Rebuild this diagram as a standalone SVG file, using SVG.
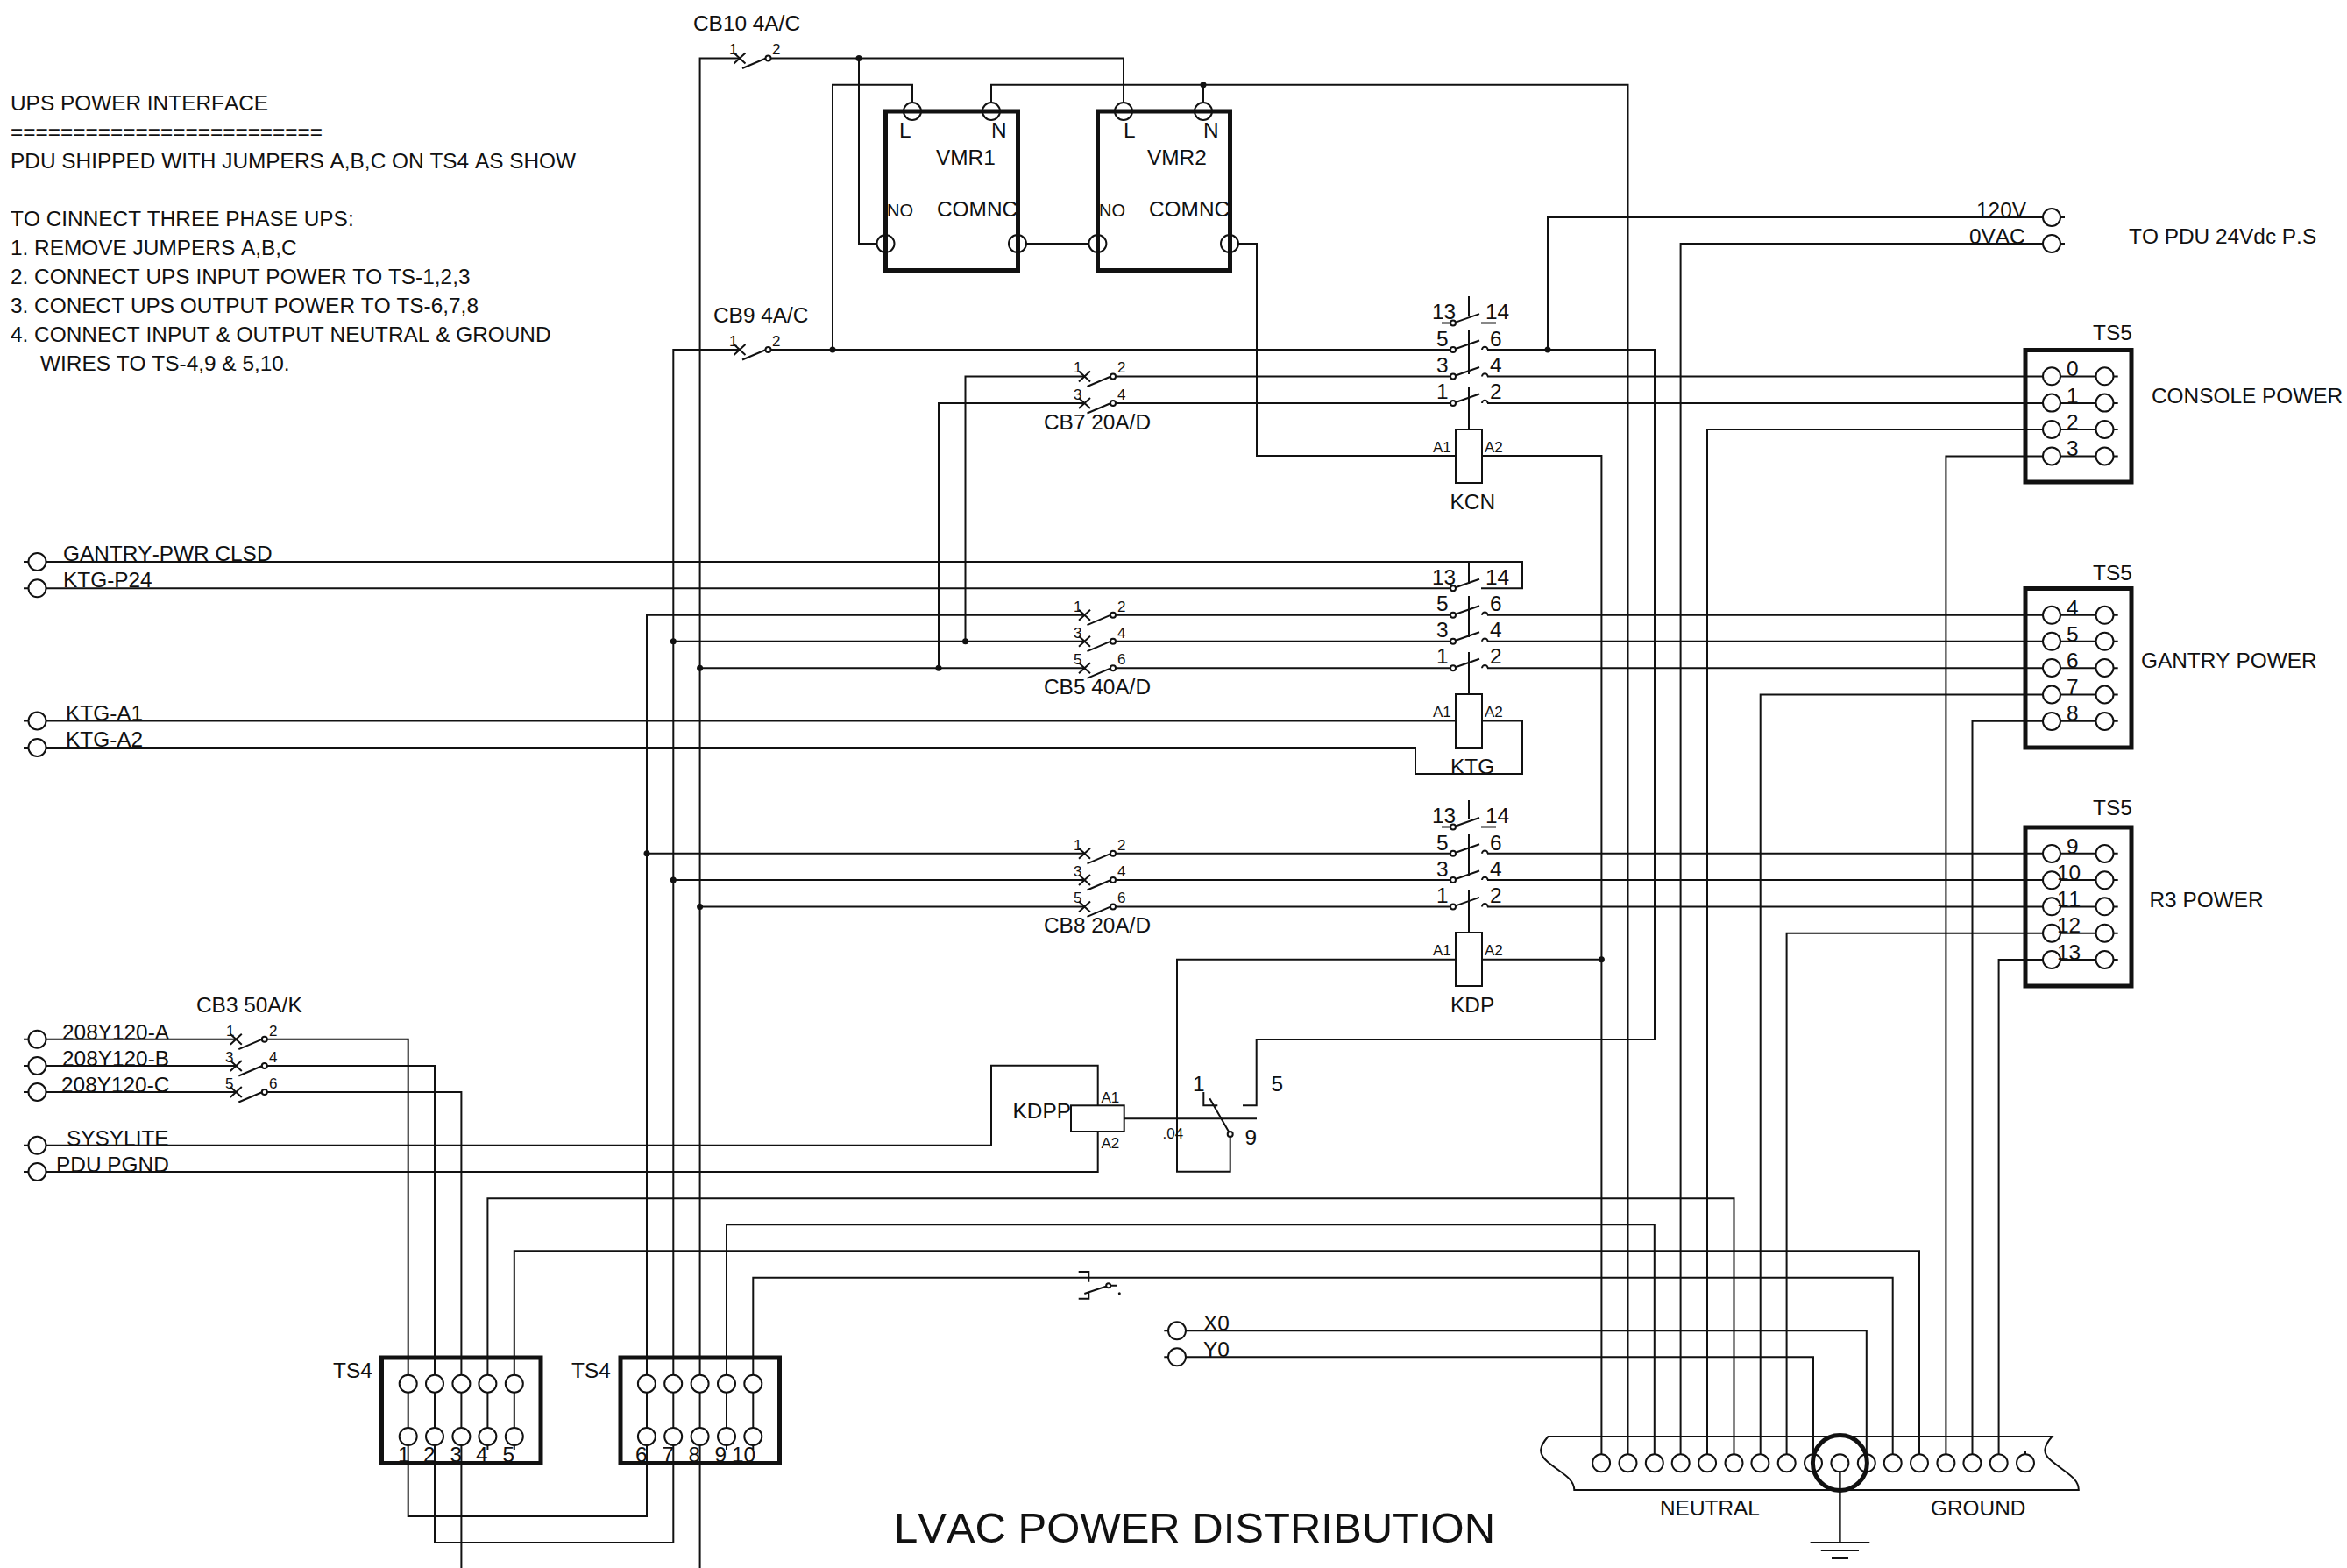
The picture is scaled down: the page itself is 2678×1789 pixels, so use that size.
<svg xmlns="http://www.w3.org/2000/svg" width="2678" height="1789" viewBox="0 0 2678 1789">
<style>
text{font-family:"Liberation Sans",Arial,sans-serif;font-size:24.4px;fill:#111;font-kerning:none}
.s{font-size:17px}
.t{font-size:49px}
.w,.o,.b,.f{fill:none;stroke:#111;stroke-width:2}
.f{fill:#fff}
.b{stroke-width:5}
.d{fill:#111}
</style>
<defs>
<g id="cb"><path class="o" d="M-6.5-6L6.5 6M-6.5 6L6.5-6M3 11.5L30 0"/><circle class="f" cx="32.5" r="3"/></g>
<g id="ct"><path class="o" d="M0 0L30-10.5"/><circle class="f" r="3"/><path class="o" d="M33 0a3.3 3.3 0 0 1 6.6 0"/></g>
<g id="ct0"><path class="o" d="M-13 0H0M0 0L30-10.5M32 0H49"/><circle class="f" r="3"/></g>
<circle id="p" class="f" r="10"/>
</defs>
<rect width="2678" height="1789" fill="#fff"/>
<g id="connectors">
<path class="w" d="M843.5 66.5H798.6V1789"/>
<path class="w" d="M877 66.5H1282V117"/>
<path class="w" d="M980 66.5V278H1000.5"/>
<path class="w" d="M843.5 399H768.3V1760H496V1216H301.7"/>
<path class="w" d="M877 399H1658"/>
<path class="w" d="M950 399V96.7H1041V117"/>
<path class="w" d="M1131 117V96.7H1857.5V1660"/>
<path class="w" d="M1373 96.7V117"/>
<path class="w" d="M1171 278H1242.4"/>
<path class="w" d="M1413 278H1434V520H1661"/>
<path class="w" d="M1691 520H1827.4V1660"/>
<path class="w" d="M1691 1094.7H1827.4"/>
<path class="w" d="M1661 1094.7H1343V1336.7H1403.7V1297"/>
<path class="w" d="M1697 399H1888V1186H1433.7V1261.3H1418"/>
<path class="w" d="M1766 399V248H2356"/>
<path class="w" d="M1917.6 1660V278H2356"/>
<path class="w" d="M1237 429.5H1101.5V731.7"/>
<path class="w" d="M1270 429.5H1658M1697 429.5H2416.7"/>
<path class="w" d="M1237 460H1071V762.3"/>
<path class="w" d="M1270 460H1658M1697 460H2416.7"/>
<path class="w" d="M1948 1660V490H2416.7"/>
<path class="w" d="M2220.4 1660V520.4H2416.7"/>
<path class="w" d="M27 641H1737V671.3H1690"/>
<path class="w" d="M27 671.3H1658"/>
<path class="w" d="M1237.5 701.7H738V1730H465.7V1185.7H301.7"/>
<path class="w" d="M1269 701.7H1658M1697 701.7H2416.7"/>
<path class="w" d="M1237.5 731.7H768.3M1269 731.7H1658M1697 731.7H2416.7"/>
<path class="w" d="M1237.5 762.3H798.6M1269 762.3H1658M1697 762.3H2416.7"/>
<path class="w" d="M2008.7 1660V792.5H2416.7"/>
<path class="w" d="M2250.5 1660V822.8H2416.7"/>
<path class="w" d="M27 822.5H1661M1691 822.5H1737V883H1615V853H27"/>
<path class="w" d="M1237.5 973.8H738M1269 973.8H1658M1697 973.8H2416.7"/>
<path class="w" d="M1237.5 1004H768.3M1269 1004H1658M1697 1004H2416.7"/>
<path class="w" d="M1237.5 1034.4H798.6M1269 1034.4H1658M1697 1034.4H2416.7"/>
<path class="w" d="M2038.6 1660V1064.7H2416.7"/>
<path class="w" d="M2280.6 1660V1095H2416.7"/>
<path class="w" d="M27 1185.7H269.3M27 1216H269.3M27 1246H269.3"/>
<path class="w" d="M301.7 1246H526.4V1789"/>
<path class="w" d="M27 1306.7H1131V1215.7H1252.7V1261.3"/>
<path class="w" d="M27 1337H1252.7V1291"/>
<path class="w" d="M1282.7 1276.3H1434"/>
<path class="w" d="M556.4 1654V1367.3H1978.5V1660"/>
<path class="w" d="M829 1654V1397.3H1887.8V1660"/>
<path class="w" d="M586.8 1654V1427.3H2190V1660"/>
<path class="w" d="M859.3 1654V1457.7H2159.7V1660"/>
<path class="w" d="M1328.3 1518.3H2129.8V1660"/>
<path class="w" d="M1328.3 1548.3H2069V1660"/>
<path class="w" d="M2311 1655V1660"/>
<path class="w" d="M2099.4 1679V1760"/>
<g class="d">
<circle cx="980" cy="66.5" r="3.5"/><circle cx="950" cy="399" r="3.5"/><circle cx="1373" cy="96.7" r="3.5"/><circle cx="1766" cy="399" r="3.5"/>
<circle cx="768.3" cy="731.7" r="3.5"/><circle cx="1101.5" cy="731.7" r="3.5"/><circle cx="798.6" cy="762.3" r="3.5"/><circle cx="1071" cy="762.3" r="3.5"/>
<circle cx="738" cy="973.8" r="3.5"/><circle cx="768.3" cy="1004" r="3.5"/><circle cx="798.6" cy="1034.4" r="3.5"/><circle cx="1827.4" cy="1094.7" r="3.5"/>
</g>
</g>
<g id="notes">
<text x="12" y="126">UPS POWER INTERFACE</text>
<text x="12" y="159">=========================</text>
<text x="12" y="192">PDU SHIPPED WITH JUMPERS A,B,C ON TS4 AS SHOW</text>
<text x="12" y="258">TO CINNECT THREE PHASE UPS:</text>
<text x="12" y="291">1. REMOVE JUMPERS A,B,C</text>
<text x="12" y="324">2. CONNECT UPS INPUT POWER TO TS-1,2,3</text>
<text x="12" y="357">3. CONECT UPS OUTPUT POWER TO TS-6,7,8</text>
<text x="12" y="390">4. CONNECT INPUT &amp; OUTPUT NEUTRAL &amp; GROUND</text>
<text x="46" y="423">WIRES TO TS-4,9 &amp; 5,10.</text>
<text class="t" x="1020" y="1760">LVAC POWER DISTRIBUTION</text>
</g>
<g id="CB10">
<text x="791" y="35">CB10 4A/C</text>
<use href="#cb" x="844" y="66.5"/>
<text class="s" x="832" y="62">1</text><text class="s" x="881" y="62">2</text>
</g>
<g id="CB9">
<text x="814" y="368">CB9 4A/C</text>
<use href="#cb" x="844" y="399"/>
<text class="s" x="832" y="395">1</text><text class="s" x="881" y="395">2</text>
</g>
<g id="VMR1">
<rect class="b" x="1010.5" y="127" width="151" height="181.5"/>
<circle class="o" cx="1041" cy="127" r="10"/><circle class="o" cx="1131" cy="127" r="10"/><circle class="o" cx="1010.5" cy="278" r="10"/><circle class="o" cx="1161" cy="278" r="10"/>
<text x="1026" y="157">L</text><text x="1131" y="157">N</text><text x="1068" y="188">VMR1</text>
<text x="1012" y="247" style="font-size:20px">NO</text><text x="1069" y="247">COMNC</text>
</g>
<g id="VMR2">
<rect class="b" x="1252.5" y="127" width="151" height="181.5"/>
<circle class="o" cx="1282" cy="127" r="10"/><circle class="o" cx="1373" cy="127" r="10"/><circle class="o" cx="1252.4" cy="278" r="10"/><circle class="o" cx="1403" cy="278" r="10"/>
<text x="1282" y="157">L</text><text x="1373" y="157">N</text><text x="1309" y="188">VMR2</text>
<text x="1254" y="247" style="font-size:20px">NO</text><text x="1311" y="247">COMNC</text>
</g>
<g id="CB7">
<use href="#cb" x="1237.5" y="429.5"/><use href="#cb" x="1237.5" y="460"/>
<text class="s" x="1225" y="425">1</text><text class="s" x="1275" y="425">2</text><text class="s" x="1225" y="456">3</text><text class="s" x="1275" y="456">4</text>
<text x="1191" y="490">CB7 20A/D</text>
</g>
<g id="CB5">
<use href="#cb" x="1237.5" y="701.7"/><use href="#cb" x="1237.5" y="731.7"/><use href="#cb" x="1237.5" y="762.3"/>
<text class="s" x="1225" y="698">1</text><text class="s" x="1275" y="698">2</text><text class="s" x="1225" y="728">3</text><text class="s" x="1275" y="728">4</text><text class="s" x="1225" y="758">5</text><text class="s" x="1275" y="758">6</text>
<text x="1191" y="792">CB5 40A/D</text>
</g>
<g id="CB8">
<use href="#cb" x="1237.5" y="973.8"/><use href="#cb" x="1237.5" y="1004"/><use href="#cb" x="1237.5" y="1034.4"/>
<text class="s" x="1225" y="970">1</text><text class="s" x="1275" y="970">2</text><text class="s" x="1225" y="1000">3</text><text class="s" x="1275" y="1000">4</text><text class="s" x="1225" y="1030">5</text><text class="s" x="1275" y="1030">6</text>
<text x="1191" y="1064">CB8 20A/D</text>
</g>
<g id="CB3">
<use href="#cb" x="269.3" y="1185.7"/><use href="#cb" x="269.3" y="1216"/><use href="#cb" x="269.3" y="1246"/>
<text class="s" x="258" y="1182">1</text><text class="s" x="307" y="1182">2</text><text class="s" x="257" y="1212">3</text><text class="s" x="307" y="1212">4</text><text class="s" x="257" y="1242">5</text><text class="s" x="307" y="1242">6</text>
<text x="224" y="1155">CB3 50A/K</text>
</g>
<g id="KCN">
<path class="o" d="M1676 338V360M1676 377V427M1676 442V490"/>
<use href="#ct0" x="1658" y="368.6"/><use href="#ct" x="1658" y="399"/><use href="#ct" x="1658" y="429.5"/><use href="#ct" x="1658" y="460"/>
<rect class="f" x="1661" y="490" width="30" height="61"/>
<text x="1634" y="364">13</text><text x="1695" y="364">14</text>
<text x="1639" y="394.5">5</text><text x="1700" y="394.5">6</text><text x="1639" y="424.5">3</text><text x="1700" y="424.5">4</text><text x="1639" y="454.7">1</text><text x="1700" y="454.7">2</text>
<text class="s" x="1635" y="516">A1</text><text class="s" x="1694" y="516">A2</text>
<text x="1654.5" y="581">KCN</text>
</g>
<g id="KTG">
<path class="o" d="M1676 641V666M1676 680V727M1676 744V792"/>
<use href="#ct" x="1658" y="701.7"/><use href="#ct" x="1658" y="731.7"/><use href="#ct" x="1658" y="762.3"/>
<path class="o" d="M1658 671.3L1688 660.8"/><circle class="f" cx="1658" cy="671.3" r="3"/>
<rect class="f" x="1661" y="792" width="30" height="61"/>
<text x="1634" y="666.5">13</text><text x="1695" y="666.5">14</text>
<text x="1639" y="697">5</text><text x="1700" y="697">6</text><text x="1639" y="727">3</text><text x="1700" y="727">4</text><text x="1639" y="757">1</text><text x="1700" y="757">2</text>
<text class="s" x="1635" y="818">A1</text><text class="s" x="1694" y="818">A2</text>
<text x="1655" y="883">KTG</text>
</g>
<g id="KDP">
<path class="o" d="M1676 913V935M1676 952V999M1676 1016V1064"/>
<use href="#ct0" x="1658" y="943.5"/><use href="#ct" x="1658" y="973.8"/><use href="#ct" x="1658" y="1004"/><use href="#ct" x="1658" y="1034.4"/>
<rect class="f" x="1661" y="1064" width="30" height="61"/>
<text x="1634" y="939">13</text><text x="1695" y="939">14</text>
<text x="1639" y="969.5">5</text><text x="1700" y="969.5">6</text><text x="1639" y="999.5">3</text><text x="1700" y="999.5">4</text><text x="1639" y="1029.5">1</text><text x="1700" y="1029.5">2</text>
<text class="s" x="1635" y="1090">A1</text><text class="s" x="1694" y="1090">A2</text>
<text x="1655" y="1155">KDP</text>
</g>
<g id="KDPP">
<rect class="f" x="1222" y="1261.3" width="60.7" height="29.7"/>
<text x="1155.5" y="1276">KDPP</text><text class="s" x="1256.5" y="1258">A1</text><text class="s" x="1256.5" y="1310">A2</text>
<text class="s" x="1326.5" y="1299">.04</text>
<path class="o" d="M1373.3 1246V1261.3H1389.3M1380.3 1253.3L1403.7 1294"/><circle class="f" cx="1403.7" cy="1294" r="3"/>
<text x="1361" y="1245">1</text><text x="1450.5" y="1245">5</text><text x="1420.5" y="1306">9</text>
</g>
<g id="switch">
<path class="o" d="M1230.7 1451H1242.3V1462.7M1242.3 1475V1481.7H1230.7M1237.3 1476L1264.7 1466.7H1274.3"/><circle class="f" cx="1264.7" cy="1466.7" r="2.5"/><circle class="d" cx="1277.3" cy="1475.7" r="1.5"/>
</g>
<g id="inputs">
<use href="#p" x="42.5" y="641"/><use href="#p" x="42.5" y="671.3"/><use href="#p" x="42.5" y="822.5"/><use href="#p" x="42.5" y="853"/>
<use href="#p" x="42.5" y="1185.7"/><use href="#p" x="42.5" y="1216"/><use href="#p" x="42.5" y="1246"/><use href="#p" x="42.5" y="1306.7"/><use href="#p" x="42.5" y="1337"/>
<use href="#p" x="1343" y="1518.3"/><use href="#p" x="1343" y="1548.3"/>
<use href="#p" x="2341" y="248"/><use href="#p" x="2341" y="278"/>
<text x="72" y="640">GANTRY-PWR CLSD</text><text x="72" y="670">KTG-P24</text><text x="75" y="822">KTG-A1</text><text x="75" y="852">KTG-A2</text>
<text x="71" y="1185.7">208Y120-A</text><text x="71" y="1216">208Y120-B</text><text x="70" y="1246">208Y120-C</text><text x="76" y="1306.7">SYSYLITE</text><text x="64" y="1337">PDU PGND</text>
<text x="1373" y="1518">X0</text><text x="1373" y="1548">Y0</text>
<text x="2255" y="248">120V</text><text x="2247" y="278">0VAC</text><text x="2429" y="277.5">TO PDU 24Vdc P.S</text>
</g>
<g id="TS5-console">
<rect class="b" x="2311" y="399.5" width="121" height="150.5"/>
<use href="#p" x="2341" y="429.3"/><use href="#p" x="2401.5" y="429.3"/><use href="#p" x="2341" y="459.6"/><use href="#p" x="2401.5" y="459.6"/><use href="#p" x="2341" y="490"/><use href="#p" x="2401.5" y="490"/><use href="#p" x="2341" y="520.4"/><use href="#p" x="2401.5" y="520.4"/>
<text x="2388" y="387.5">TS5</text><text x="2358" y="429">0</text><text x="2358" y="459.5">1</text><text x="2358" y="490">2</text><text x="2358" y="519.5">3</text>
<text x="2455" y="459.5">CONSOLE POWER</text>
</g>
<g id="TS5-gantry">
<rect class="b" x="2311" y="671.5" width="121" height="181.5"/>
<use href="#p" x="2341" y="701.8"/><use href="#p" x="2401.5" y="701.8"/><use href="#p" x="2341" y="731.8"/><use href="#p" x="2401.5" y="731.8"/><use href="#p" x="2341" y="762"/><use href="#p" x="2401.5" y="762"/><use href="#p" x="2341" y="792.5"/><use href="#p" x="2401.5" y="792.5"/><use href="#p" x="2341" y="822.9"/><use href="#p" x="2401.5" y="822.9"/>
<text x="2388" y="661.5">TS5</text><text x="2358" y="701.5">4</text><text x="2358" y="731.5">5</text><text x="2358" y="762">6</text><text x="2358" y="792">7</text><text x="2358" y="822">8</text>
<text x="2443" y="761.5">GANTRY POWER</text>
</g>
<g id="TS5-r3">
<rect class="b" x="2311" y="944" width="121" height="181"/>
<use href="#p" x="2341" y="974"/><use href="#p" x="2401.5" y="974"/><use href="#p" x="2341" y="1004.3"/><use href="#p" x="2401.5" y="1004.3"/><use href="#p" x="2341" y="1034.3"/><use href="#p" x="2401.5" y="1034.3"/><use href="#p" x="2341" y="1064.7"/><use href="#p" x="2401.5" y="1064.7"/><use href="#p" x="2341" y="1095"/><use href="#p" x="2401.5" y="1095"/>
<text x="2388" y="930">TS5</text><text x="2358" y="973.5">9</text><text x="2347" y="1004">10</text><text x="2347" y="1034">11</text><text x="2347" y="1064">12</text><text x="2347" y="1094.5">13</text>
<text x="2452.5" y="1034.5">R3 POWER</text>
</g>
<g id="TS4-a">
<rect class="b" x="435.5" y="1549" width="181.5" height="120.5"/>
<use href="#p" x="465.7" y="1578.7"/><use href="#p" x="496" y="1578.7"/><use href="#p" x="526.4" y="1578.7"/><use href="#p" x="556.4" y="1578.7"/><use href="#p" x="586.8" y="1578.7"/>
<use href="#p" x="465.7" y="1639"/><use href="#p" x="496" y="1639"/><use href="#p" x="526.4" y="1639"/><use href="#p" x="556.4" y="1639"/><use href="#p" x="586.8" y="1639"/>
<text x="380" y="1572">TS4</text><text x="454" y="1668">1</text><text x="483" y="1668">2</text><text x="513.5" y="1668">3</text><text x="543" y="1668">4</text><text x="573.5" y="1668">5</text>
</g>
<g id="TS4-b">
<rect class="b" x="708" y="1549" width="181.5" height="120.5"/>
<use href="#p" x="737.9" y="1578.7"/><use href="#p" x="768.2" y="1578.7"/><use href="#p" x="798.6" y="1578.7"/><use href="#p" x="829" y="1578.7"/><use href="#p" x="859.3" y="1578.7"/>
<use href="#p" x="737.9" y="1639"/><use href="#p" x="768.2" y="1639"/><use href="#p" x="798.6" y="1639"/><use href="#p" x="829" y="1639"/><use href="#p" x="859.3" y="1639"/>
<text x="652" y="1572">TS4</text><text x="725" y="1668">6</text><text x="755.5" y="1668">7</text><text x="785.5" y="1668">8</text><text x="815.5" y="1668">9</text><text x="835" y="1668">10</text>
</g>
<g id="bus">
<path class="o" d="M1766.4 1639H2341.4C2332 1650 2330 1658 2340 1666C2356 1680 2372 1686 2371.8 1700H1796.3C1796 1686 1780 1680 1766 1668C1754 1658 1757 1650 1766.4 1639Z"/>
<use href="#p" x="1827.1" y="1669.3"/><use href="#p" x="1857.5" y="1669.3"/><use href="#p" x="1887.8" y="1669.3"/><use href="#p" x="1917.7" y="1669.3"/><use href="#p" x="1948.1" y="1669.3"/><use href="#p" x="1978.5" y="1669.3"/><use href="#p" x="2008.4" y="1669.3"/><use href="#p" x="2038.7" y="1669.3"/><use href="#p" x="2069" y="1669.3"/><use href="#p" x="2099.4" y="1669.3"/><use href="#p" x="2129.8" y="1669.3"/><use href="#p" x="2159.7" y="1669.3"/><use href="#p" x="2190" y="1669.3"/><use href="#p" x="2220.4" y="1669.3"/><use href="#p" x="2250.4" y="1669.3"/><use href="#p" x="2280.7" y="1669.3"/><use href="#p" x="2311" y="1669.3"/>
<ellipse class="b" cx="2099.4" cy="1669" rx="31" ry="31.5"/>
<path class="o" d="M2099.4 1679V1760M2065.6 1760H2133.3M2077.8 1769H2121M2090 1778H2109"/>
<text x="1894" y="1729">NEUTRAL</text><text x="2203" y="1729">GROUND</text>
</g>
</svg>
